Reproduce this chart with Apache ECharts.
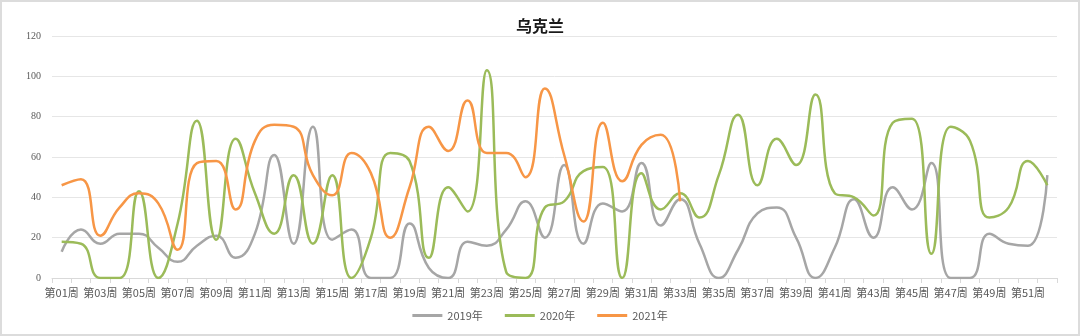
<!DOCTYPE html>
<html>
<head>
<meta charset="utf-8">
<script src="https://cdn.jsdelivr.net/npm/echarts@6/dist/echarts.min.js"></script>
<style>
  html, body { margin: 0; padding: 0; background: #fff; }
  #chart { width: 1080px; height: 336px; box-sizing: border-box; border: 2px solid #DCDCDC; }
</style>
</head>
<body>
<div id="chart"></div>
<script>
// Weekly series for Ukraine, 2019–2021
const weeks = [];
for (let i = 1; i <= 52; i++) weeks.push('第' + String(i).padStart(2, '0') + '周');

const seriesNames = ['2019年', '2020年', '2021年'];

const values2019 = [13, 24, 17, 22, 22, 15, 8, 16, 21, 10, 22, 61, 17, 75, 19, 24, 0, 0, 27, 5,
  0, 18, 16, 24, 38, 20, 56, 17, 37, 33, 57, 26, 39, 17, 0, 14, 32, 35, 20, 0,
  15, 39, 20, 45, 34, 57, 0, 0, 22, 17, 16, 51];

const values2020 = [18, 17, 0, 0, 43, 0, 27, 78, 19, 69, 42, 22, 51, 17, 51, 0, 20, 62, 58, 10,
  45, 33, 103, 3, 0, 35, 38, 53, 55, 0, 52, 34, 42, 30, 51, 81, 46, 69, 56, 91,
  42, 40, 31, 77, 79, 12, 75, 68, 30, 35, 58, 46];

const values2021 = [46, 49, 21, 35, 42, 37, 14, 57, 58, 34, 68, 76, 75, 51, 41, 62, 52, 20, 45, 75,
  63, 88, 62, 62, 50, 94, 61, 28, 77, 48, 66, 71, 38];

const yTicks = { min: 0, max: 120, interval: 20 };
const colors = ['#A6A6A6', '#9BBB59', '#F79646'];

const chart = echarts.init(document.getElementById('chart'), null, { renderer: 'canvas' });

function lineSeries(name, data, color) {
  return {
    name: name,
    type: 'line',
    data: data,
    smooth: 0.5,
    symbol: 'none',
    clip: true,
    lineStyle: { color: color, width: 2.5 },
    itemStyle: { color: color }
  };
}

chart.setOption({
  animation: false,
  backgroundColor: '#ffffff',
  title: {
    text: '乌克兰',
    left: 'center',
    top: 11,
    textStyle: { fontFamily: 'Noto Sans CJK SC', fontWeight: 'bold', fontSize: 16, color: '#1a1a1a' }
  },
  legend: {
    bottom: 8,
    left: 'center',
    icon: 'rect',
    itemWidth: 30,
    itemHeight: 3,
    itemGap: 22,
    textStyle: { fontFamily: 'Liberation Sans Narrow, Noto Sans CJK SC', fontSize: 11, color: '#595959' },
    data: seriesNames
  },
  grid: { left: 50, right: 21, top: 34, bottom: 56 },
  xAxis: {
    type: 'category',
    data: weeks,
    boundaryGap: true,
    axisLine: { lineStyle: { color: '#D9D9D9', width: 1 } },
    axisTick: { show: true, alignWithLabel: false, interval: 0, length: 5, lineStyle: { color: '#D9D9D9' } },
    axisLabel: {
      interval: 1,
      margin: 9,
      fontFamily: 'Liberation Sans Narrow, Noto Sans CJK SC',
      fontSize: 11,
      color: '#595959'
    },
    splitLine: { show: false }
  },
  yAxis: {
    type: 'value',
    min: yTicks.min,
    max: yTicks.max,
    interval: yTicks.interval,
    axisLine: { show: false },
    axisTick: { show: false },
    axisLabel: {
      margin: 11,
      fontFamily: 'Liberation Sans Narrow',
      fontSize: 10,
      color: '#595959'
    },
    splitLine: { lineStyle: { color: '#E6E6E6', width: 1 } }
  },
  series: [
    lineSeries(seriesNames[0], values2019, colors[0]),
    lineSeries(seriesNames[1], values2020, colors[1]),
    lineSeries(seriesNames[2], values2021, colors[2])
  ]
});
</script>
</body>
</html>
